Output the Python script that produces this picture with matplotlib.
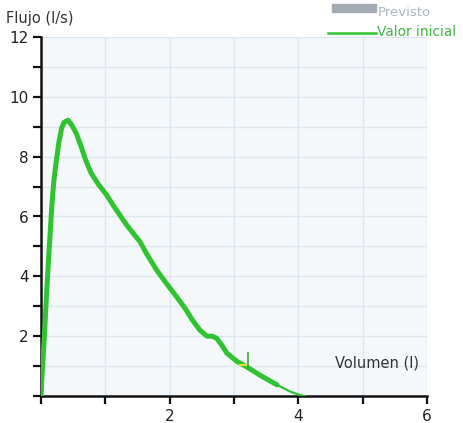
import matplotlib
matplotlib.use("Agg")
import matplotlib.pyplot as plt
from matplotlib.ticker import MultipleLocator, FuncFormatter
from matplotlib.patches import Rectangle
from matplotlib.lines import Line2D

# flow-volume curve (l, l/s)
volumen = [0.00, 0.01, 0.03, 0.05, 0.09, 0.135, 0.17, 0.20, 0.24, 0.28, 0.32,
           0.36, 0.42, 0.48, 0.55, 0.63, 0.70, 0.78, 0.89, 1.02, 1.12, 1.33,
           1.54, 1.64, 1.80, 1.95, 2.11, 2.24, 2.35, 2.47, 2.58, 2.66, 2.73,
           2.81, 2.89, 3.05, 3.20, 3.40, 3.67, 3.87, 4.03, 4.10]
flujo = [0.00, 0.45, 1.20, 1.90, 3.55, 5.20, 6.40, 7.20, 7.90, 8.50, 8.95,
         9.15, 9.22, 9.05, 8.77, 8.30, 7.85, 7.45, 7.08, 6.72, 6.38, 5.72,
         5.15, 4.76, 4.20, 3.76, 3.31, 2.93, 2.55, 2.20, 2.00, 2.00, 1.93,
         1.70, 1.43, 1.15, 0.97, 0.70, 0.37, 0.15, 0.03, 0.00]
fin_grueso = 38          # thick trace stops here, thin tail after

# end-of-test marker
marca_x = [3.10, 3.22]
marca_y = [1.05, 1.05]
tick_x = [3.22, 3.22]
tick_y = [0.90, 1.45]

verde = "#2fc42f"
W, H = 463, 423

fig = plt.figure(figsize=(W / 100, H / 100), dpi=100)
ax = fig.add_axes([41 / W, 1 - 396 / H, (427 - 41) / W, (396 - 37) / H])
ax.set_facecolor("#f4f8fb")

ax.plot(volumen[:fin_grueso + 1], flujo[:fin_grueso + 1], color=verde,
        lw=3.6, solid_capstyle="round", solid_joinstyle="round", zorder=3)
ax.plot(volumen[fin_grueso:], flujo[fin_grueso:], color=verde, lw=1.6, zorder=3)
ax.plot(marca_x, marca_y, color="#e8e030", lw=1.5, zorder=4)
ax.plot(tick_x, tick_y, color="#3aa83a", lw=1.2, zorder=4)

ax.set_xlim(0, 6)
ax.set_ylim(0, 12)
ax.xaxis.set_major_locator(MultipleLocator(2))
ax.xaxis.set_minor_locator(MultipleLocator(1))
ax.yaxis.set_major_locator(MultipleLocator(2))
ax.yaxis.set_minor_locator(MultipleLocator(1))
fmt = FuncFormatter(lambda v, p: "" if v == 0 else f"{v:g}")
ax.xaxis.set_major_formatter(fmt)
ax.yaxis.set_major_formatter(fmt)

ax.grid(True, which="both", color="#dfe7ee", lw=1.0, zorder=0)
ax.set_axisbelow(True)
for s in ["top", "right"]:
    ax.spines[s].set_visible(False)
for s in ["left", "bottom"]:
    ax.spines[s].set_color("#111111")
    ax.spines[s].set_linewidth(1.8)
ax.tick_params(which="both", direction="out", length=6, width=1.6,
               color="#111111", labelsize=11, labelcolor="#222222", pad=3)

ax.text(4.57, 1.1, "Volumen (l)", fontsize=10.5, color="#333333",
        ha="left", va="center")
fig.text(6 / W, 1 - 18 / H, "Flujo (l/s)", fontsize=10.5, color="#333333",
         ha="left", va="center")

# legend, drawn by hand at the top right
fig.patches.append(Rectangle((332 / W, 1 - 12 / H), 44 / W, 8 / H,
                             transform=fig.transFigure, color="#a3acb5"))
fig.text(378 / W, 1 - 13 / H, "Previsto", fontsize=9.5, color="#b0b8c0",
         ha="left", va="center")
fig.lines.append(Line2D([328 / W, 376 / W], [1 - 33 / H, 1 - 33 / H],
                        transform=fig.transFigure, color=verde, lw=1.8))
fig.text(377 / W, 1 - 32 / H, "Valor inicial", fontsize=9.8, color="#3db83d",
         ha="left", va="center")

fig.savefig("out.png", dpi=100, facecolor="white")
